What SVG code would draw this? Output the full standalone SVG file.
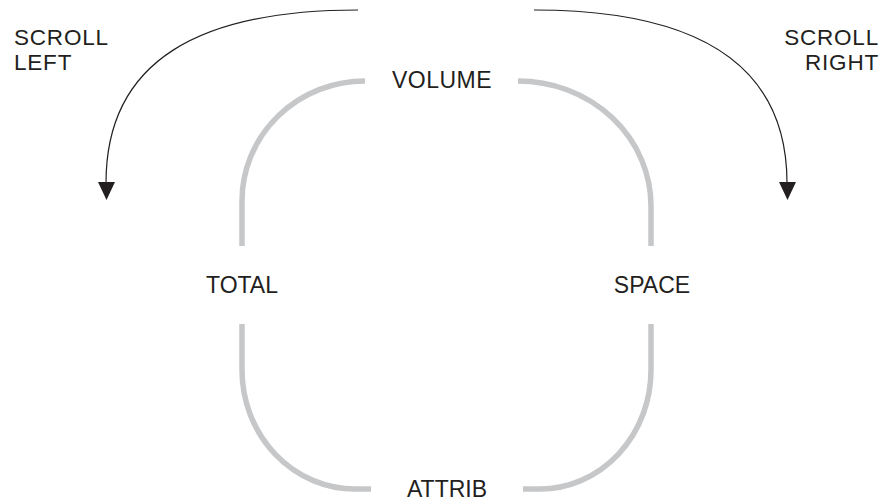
<svg xmlns="http://www.w3.org/2000/svg" width="885" height="501" viewBox="0 0 885 501">
<style>
  text { font-family: "Liberation Sans", Arial, sans-serif; font-size: 23px; fill: #231f20; }
  .c { text-anchor: middle; }
  .s { font-size: 22.5px; letter-spacing: 0.8px; }
  .ring { fill: none; stroke: #c6c7c9; stroke-width: 5.5; }
  .arrow { fill: none; stroke: #231f20; stroke-width: 1.2; }
  .head { fill: #231f20; }
</style>
<rect width="885" height="501" fill="#ffffff"/>
<g id="connectors">
  <path class="ring" d="M365 81 A123 120 0 0 0 242 201 L242 246"/>
  <path class="ring" d="M518 81 A133 125 0 0 1 651 206 L651 246"/>
  <path class="ring" d="M242 324 L242 370 A113 119 0 0 0 355 489 L371 489"/>
  <path class="ring" d="M523 489 L540 489 A111 119 0 0 0 651 370 L651 324"/>
  <path class="arrow" d="M358 10 C200 10 106 60 106 183"/>
  <path class="head" d="M98 182 L115 182 L106.5 200 Z"/>
  <path class="arrow" d="M534 10 C692 10 787 60 787 183"/>
  <path class="head" d="M779 182 L796 182 L787.5 200 Z"/>
</g>
<g id="volume"><text class="c" x="442" y="88" style="letter-spacing:0.5px">VOLUME</text></g>
<g id="total"><text class="c" x="242" y="293">TOTAL</text></g>
<g id="space"><text class="c" x="652" y="293">SPACE</text></g>
<g id="attrib"><text class="c" x="447" y="497">ATTRIB</text></g>
<g id="scroll-left"><text class="s" x="14" y="45">SCROLL</text><text class="s" x="14" y="69.5">LEFT</text></g>
<g id="scroll-right"><text class="s" x="879" y="45" text-anchor="end">SCROLL</text><text class="s" x="879" y="69.5" text-anchor="end">RIGHT</text></g>
</svg>
